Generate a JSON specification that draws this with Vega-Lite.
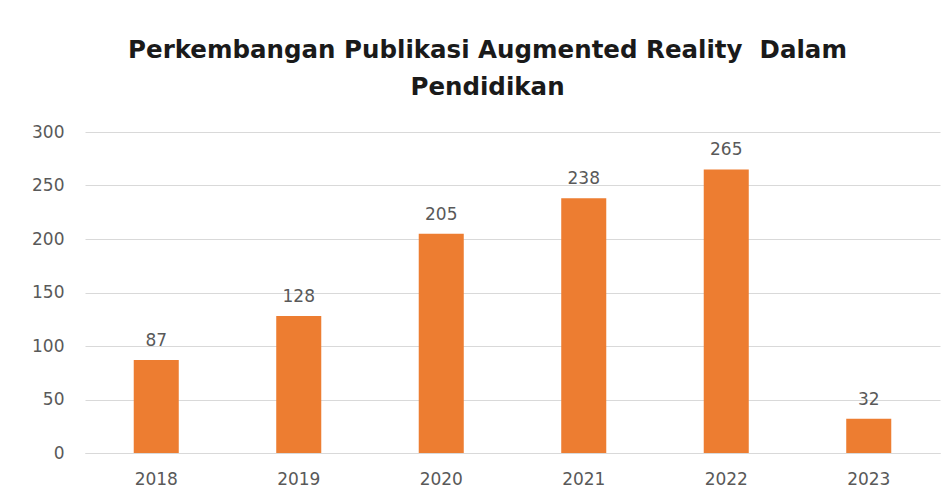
{
  "$schema": "https://vega.github.io/schema/vega-lite/v6.json",
  "autosize": {"type": "none"},
  "width": 855,
  "height": 321,
  "padding": {"left": 85, "top": 132, "right": 12, "bottom": 45},
  "background": "white",
  "title": {
    "text": ["Perkembangan Publikasi Augmented Reality\u00a0 Dalam", "Pendidikan"],
    "font": "DejaVu Sans",
    "fontSize": 24.5,
    "fontWeight": "bold",
    "color": "#1a1a1a",
    "lineHeight": 37,
    "dx": -25,
    "offset": 23
  },
  "data": {
    "values": [
      {"year": "2018", "count": 87},
      {"year": "2019", "count": 128},
      {"year": "2020", "count": 205},
      {"year": "2021", "count": 238},
      {"year": "2022", "count": 265},
      {"year": "2023", "count": 32}
    ]
  },
  "encoding": {
    "x": {
      "field": "year",
      "type": "nominal",
      "scale": {"paddingInner": 0.684, "paddingOuter": 0.342},
      "axis": {
        "title": null,
        "labelAngle": 0,
        "ticks": false,
        "domain": true,
        "domainColor": "#D9D9D9",
        "labelColor": "#595959",
        "labelFont": "DejaVu Sans",
        "labelFontSize": 17,
        "labelPadding": 18
      }
    },
    "y": {
      "field": "count",
      "type": "quantitative",
      "scale": {"domain": [0, 300]},
      "axis": {
        "title": null,
        "values": [0, 50, 100, 150, 200, 250, 300],
        "ticks": false,
        "domain": false,
        "gridColor": "#D9D9D9",
        "labelColor": "#595959",
        "labelFont": "DejaVu Sans",
        "labelFontSize": 17,
        "labelPadding": 21
      }
    }
  },
  "layer": [
    {"mark": {"type": "bar", "color": "#ED7D31"}},
    {
      "mark": {
        "type": "text",
        "baseline": "alphabetic",
        "dy": -14,
        "font": "DejaVu Sans",
        "fontSize": 17,
        "color": "#595959"
      },
      "encoding": {"text": {"field": "count", "type": "quantitative"}}
    }
  ],
  "config": {"view": {"stroke": null}}
}
